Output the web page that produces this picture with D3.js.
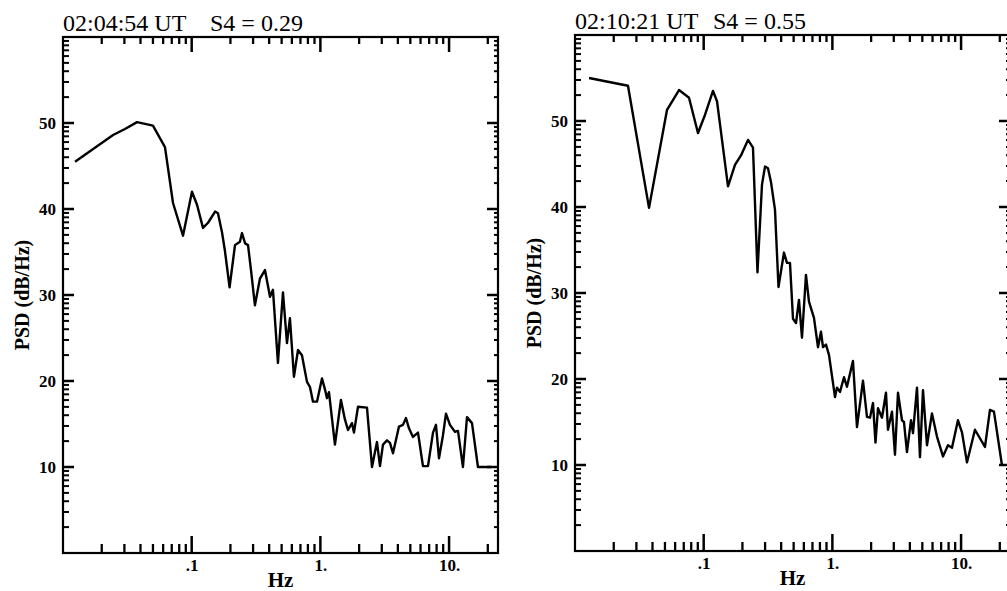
<!DOCTYPE html>
<html lang="en">
<head>
    <meta charset="UTF-8">
    <title>PSD spectra</title>
    <script src="https://d3js.org/d3.v7.min.js"></script>
    <style>
        body { margin: 0; background: #fff; }
        svg { display: block; background: #fff; }
        .tick text { font-family: "Liberation Serif", serif; font-weight: bold; font-size: 17px; fill: #000; }
        .title { font-family: "Liberation Serif", serif; font-size: 24px; fill: #000; }
        .axis-label { font-family: "Liberation Serif", serif; font-weight: bold; fill: #000; }
    </style>
</head>
<body>
<svg id="chart" width="1007" height="591"></svg>
<script>
    // values (frequency in Hz, PSD in dB/Hz)
    const leftFreq = [0.0124, 0.0245, 0.0303, 0.0376, 0.050, 0.062, 0.0716, 0.0856, 0.1005, 0.110,
        0.1224, 0.134, 0.152, 0.160, 0.172, 0.181, 0.197, 0.217, 0.237, 0.246,
        0.260, 0.274, 0.289, 0.310, 0.339, 0.371, 0.406, 0.428, 0.468, 0.512,
        0.550, 0.580, 0.623, 0.670, 0.719, 0.787, 0.830, 0.876, 0.941, 1.029,
        1.086, 1.125, 1.166, 1.298, 1.445, 1.553, 1.639, 1.760, 1.824, 1.960,
        2.302, 2.518, 2.753, 2.905, 3.065, 3.293, 3.474, 3.666, 4.081, 4.384,
        4.626, 4.880, 5.243, 5.734, 6.270, 6.858, 7.50, 7.91, 8.35, 8.97,
        9.46, 10.16, 11.11, 11.73, 12.82, 13.78, 15.07, 16.77, 21.2];
    const leftPsd = [45.5, 48.6, 49.3, 50.1, 49.7, 47.2, 40.7, 36.9, 42.0, 40.5,
        37.8, 38.4, 39.7, 39.5, 37.3, 35.2, 30.9, 35.8, 36.2, 37.2,
        36.0, 35.8, 32.9, 28.8, 31.9, 32.9, 29.8, 30.6, 22.1, 30.3,
        24.4, 27.3, 20.5, 23.6, 23.0, 19.9, 19.3, 17.6, 17.6, 20.3,
        19.0, 18.0, 18.7, 12.6, 17.8, 15.5, 14.3, 15.1, 14.0, 17.0,
        16.9, 10.0, 12.9, 10.1, 12.6, 13.1, 12.8, 11.6, 14.7, 14.9,
        15.7, 14.5, 13.5, 14.0, 10.1, 10.1, 14.0, 14.9, 11.0, 13.7,
        16.2, 14.9, 14.1, 14.2, 10.0, 15.8, 15.1, 10.0, 10.0];

    const rightFreq = [0.01285, 0.0258, 0.0376, 0.0519, 0.0643, 0.0769, 0.0903, 0.1023, 0.1181, 0.1269,
        0.1545, 0.175, 0.1949, 0.2209, 0.2416, 0.2618, 0.2838, 0.2995, 0.3159, 0.3334,
        0.3581, 0.3813, 0.4206, 0.4438, 0.4683, 0.4942, 0.5215, 0.550, 0.5804, 0.6234,
        0.6578, 0.7194, 0.7728, 0.8153, 0.8453, 0.892, 0.941, 1.048, 1.086, 1.146,
        1.231, 1.298, 1.445, 1.553, 1.729, 1.857, 1.960, 2.068, 2.162, 2.262,
        2.429, 2.609, 2.704, 2.905, 3.065, 3.234, 3.474, 3.600, 3.798, 4.081,
        4.230, 4.544, 4.794, 5.058, 5.434, 5.941, 6.498, 7.235, 7.911, 8.50,
        9.46, 10.16, 11.11, 12.82, 15.34, 16.77, 18.01, 20.78];
    const rightPsd = [55.0, 54.1, 39.9, 51.3, 53.6, 52.7, 48.6, 50.7, 53.5, 52.3,
        42.4, 44.9, 46.0, 47.8, 46.9, 32.4, 42.6, 44.7, 44.5, 42.9,
        39.7, 30.7, 34.7, 33.5, 33.5, 27.0, 26.5, 29.2, 24.8, 32.1,
        29.0, 27.1, 23.7, 25.5, 23.7, 24.0, 22.8, 17.9, 19.0, 18.5,
        20.2, 19.1, 22.1, 14.4, 19.8, 15.6, 15.5, 17.2, 12.6, 16.6,
        15.5, 18.4, 14.1, 16.2, 11.2, 18.4, 15.2, 15.0, 11.5, 15.2,
        13.7, 19.0, 10.9, 18.7, 12.3, 16.0, 13.3, 11.0, 12.3, 12.0,
        15.2, 13.8, 10.3, 14.1, 12.1, 16.4, 16.2, 10.0];

    const xTickValues = [0.1, 1, 10];
    const xTickLabels = [".1", "1.", "10."];
    const yTickValues = [10, 20, 30, 40, 50];
    const titles = [["02:04:54 UT", "S4 = 0.29"], ["02:10:21 UT", "S4 = 0.55"]];

    const pw = 435, ph = 516;
    const panels = [
        { left: 63, top: 37, freq: leftFreq, psd: leftPsd, title: titles[0], s4dx: 147 },
        { left: 575, top: 35, freq: rightFreq, psd: rightPsd, title: titles[1], s4dx: 138 }
    ];

    const x = d3.scaleLog().domain([0.01, 24]).range([0, pw]);
    const y = d3.scaleLinear().domain([0, 60]).range([ph, 0]);

    // log-style minor ticks on both axes
    const minorX = [];
    for (let n = -2; n <= 1; n++)
        for (let k = 2; k <= 9; k++) {
            const v = k * Math.pow(10, n);
            if (v <= 24) minorX.push(v);
        }
    const minorY = [];
    for (let n = 0; n < 6; n++)
        for (let k = 2; k <= 9; k++) minorY.push(10 * n + 10 * Math.log10(k));

    const svg = d3.select("#chart");

    // inward tick marks along one side of the frame
    function drawTicks(g, values, side, len, sw) {
        const horiz = side === "bottom" || side === "top";
        g.append("g").selectAll("line").data(values).join("line")
            .attr("x1", d => horiz ? x(d) : (side === "left" ? 0 : pw))
            .attr("x2", d => horiz ? x(d) : (side === "left" ? len : pw - len))
            .attr("y1", d => horiz ? (side === "top" ? 0 : ph) : y(d))
            .attr("y2", d => horiz ? (side === "top" ? len : ph - len) : y(d))
            .attr("stroke", "#000").attr("stroke-width", sw);
    }

    panels.forEach(p => {
        const g = svg.append("g").attr("transform", `translate(${p.left},${p.top})`);

        drawTicks(g, minorX, "bottom", 9, 2.3);
        drawTicks(g, xTickValues, "bottom", 17, 2.5);
        drawTicks(g, minorX, "top", 7, 2.3);
        drawTicks(g, xTickValues, "top", 15, 2.5);
        drawTicks(g, minorY, "left", 6, 2);
        drawTicks(g, yTickValues, "left", 11, 2.5);
        drawTicks(g, minorY, "right", 4, 2);
        drawTicks(g, yTickValues, "right", 11, 2.5);

        // tick labels
        g.append("g").attr("transform", `translate(0,${ph})`)
            .call(d3.axisBottom(x).tickValues(xTickValues).tickSize(0).tickPadding(6)
                .tickFormat((d, i) => xTickLabels[i]))
            .call(a => a.select(".domain").remove())
            .attr("font-family", null).attr("font-size", null);
        g.append("g")
            .call(d3.axisLeft(y).tickValues(yTickValues).tickSize(0).tickPadding(7)
                .tickFormat(d3.format("d")))
            .call(a => a.select(".domain").remove())
            .attr("font-family", null).attr("font-size", null);

        // frame
        g.append("rect").attr("width", pw).attr("height", ph)
            .attr("fill", "none").attr("stroke", "#000").attr("stroke-width", 2.2);

        // spectrum
        const pts = p.freq.map((f, i) => [f, p.psd[i]]);
        g.append("path").datum(pts)
            .attr("fill", "none").attr("stroke", "#000").attr("stroke-width", 2.4)
            .attr("stroke-linejoin", "round")
            .attr("d", d3.line().x(d => x(d[0])).y(d => y(d[1])));

        // titles
        g.append("text").attr("class", "title").attr("x", 0).attr("y", -6).text(p.title[0]);
        g.append("text").attr("class", "title").attr("x", p.s4dx).attr("y", -6).text(p.title[1]);

        // axis labels
        g.append("text").attr("class", "axis-label")
            .attr("x", pw / 2).attr("y", ph + 34)
            .style("font-size", "21px").style("text-anchor", "middle").text("Hz");
        g.append("text").attr("class", "axis-label")
            .attr("transform", `translate(-34,${ph / 2}) rotate(-90)`)
            .style("font-size", "20px").style("text-anchor", "middle").text("PSD (dB/Hz)");
    });
</script>
</body>
</html>
